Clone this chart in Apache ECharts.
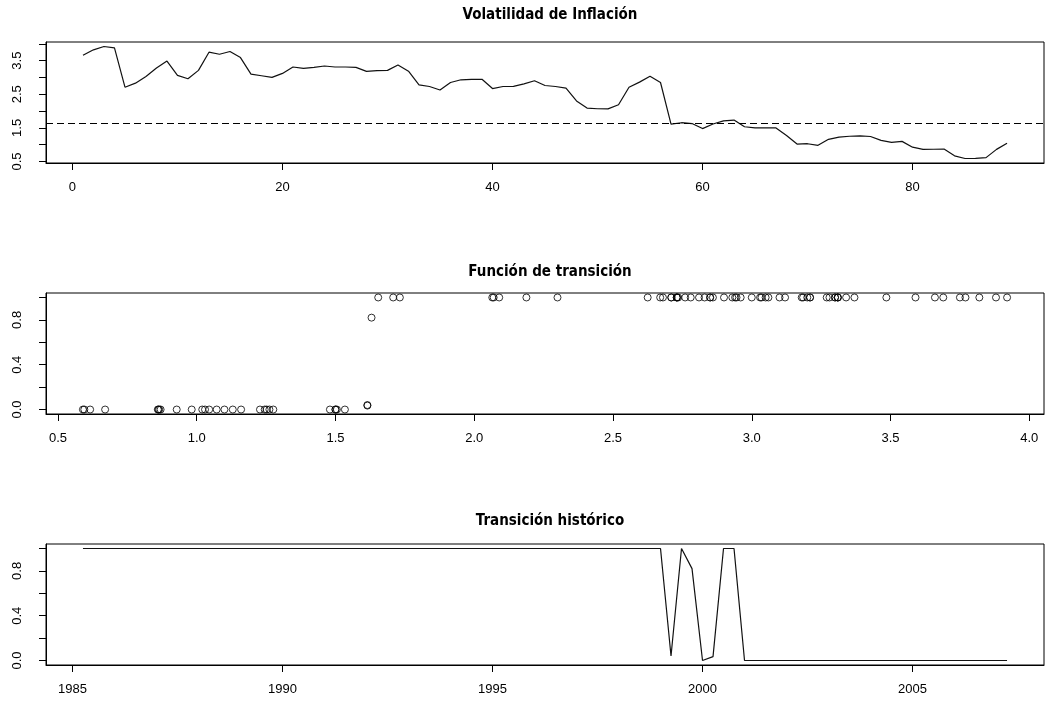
<!DOCTYPE html>
<html>
<head>
<meta charset="utf-8">
<script src="https://cdn.jsdelivr.net/npm/echarts@6/dist/echarts.min.js"></script>
<style>
html,body{margin:0;padding:0;background:#fff;}
#chart{width:1046px;height:702px;}
</style>
</head>
<body>
<div id="chart"></div>
<script>
// ---- data ----
const titles = ['Volatilidad de Inflación', 'Función de transición', 'Transición histórico'];

// quarterly inflation volatility, observations 1..89
const volatility = [
  3.66, 3.82, 3.92, 3.88, 2.71, 2.83, 3.03, 3.28, 3.485, 3.06,
  2.96, 3.21, 3.75, 3.69, 3.77, 3.59, 3.10, 3.05, 3.00, 3.12,
  3.31, 3.27, 3.30, 3.34, 3.31, 3.31, 3.30, 3.18, 3.20, 3.21,
  3.37, 3.185, 2.78, 2.73, 2.625, 2.85, 2.93, 2.94, 2.945, 2.67,
  2.73, 2.735, 2.81, 2.90, 2.76, 2.73, 2.68, 2.30, 2.09, 2.07,
  2.065, 2.188, 2.71, 2.86, 3.035, 2.85, 1.615, 1.654, 1.63, 1.48,
  1.615, 1.708, 1.732, 1.534, 1.50, 1.505, 1.50, 1.276, 1.02, 1.03,
  0.982, 1.16, 1.228, 1.252, 1.262, 1.245, 1.13, 1.072, 1.10, 0.928,
  0.86, 0.865, 0.87, 0.67, 0.59, 0.595, 0.616, 0.862, 1.045
];

// transition function value for each observation
const transition = [
  1, 1, 1, 1, 1, 1, 1, 1, 1, 1,
  1, 1, 1, 1, 1, 1, 1, 1, 1, 1,
  1, 1, 1, 1, 1, 1, 1, 1, 1, 1,
  1, 1, 1, 1, 1, 1, 1, 1, 1, 1,
  1, 1, 1, 1, 1, 1, 1, 1, 1, 1,
  1, 1, 1, 1, 1, 1, 0.04, 1, 0.82, 0,
  0.035, 1, 1, 0, 0, 0, 0, 0, 0, 0,
  0, 0, 0, 0, 0, 0, 0, 0, 0, 0,
  0, 0, 0, 0, 0, 0, 0, 0, 0
];

const threshold = 1.63;          // dashed reference line
const startYear = 1985.25;       // first quarter of the series

const topXTicks = [0, 20, 40, 60, 80];
const topYTicks = [0.5, 1.0, 1.5, 2.0, 2.5, 3.0, 3.5, 4.0];
const topYLabels = [0.5, 1.5, 2.5, 3.5];
const midXTicks = [0.5, 1.0, 1.5, 2.0, 2.5, 3.0, 3.5, 4.0];
const probTicks = [0, 0.2, 0.4, 0.6, 0.8, 1.0];
const probLabels = [0, 0.4, 0.8];
const yearTicks = [1985, 1990, 1995, 2000, 2005];

// ---- build series data ----
const obsIndex = volatility.map((_, i) => i + 1);
const quarterTime = volatility.map((_, i) => startYear + i * 0.25);
const lineTop = volatility.map((v, i) => [obsIndex[i], v]);
const scatterMid = volatility.map((v, i) => [v, transition[i]]);
const lineBottom = transition.map((v, i) => [quarterTime[i], v]);

const FONT = 'Liberation Sans, Arial, sans-serif';
const TFONT = 'Liberation Sans Narrow, Arial Narrow, DejaVu Sans Condensed, Liberation Sans, Arial, sans-serif';

function xAxisCfg(grid, min, max, ticks, fmt) {
  return {
    type: 'value', gridIndex: grid, min: min, max: max,
    axisLine: {show: true, onZero: false, lineStyle: {color: '#000', width: 1}},
    axisTick: {show: true, length: 7, inside: false, customValues: ticks, lineStyle: {color: '#000'}},
    axisLabel: {show: true, customValues: ticks, margin: 18, color: '#000', fontSize: 13, fontFamily: FONT, formatter: fmt},
    splitLine: {show: false}
  };
}
function yAxisCfg(grid, min, max, ticks, labels, fmt) {
  return {
    type: 'value', gridIndex: grid, min: min, max: max,
    axisLine: {show: true, onZero: false, lineStyle: {color: '#000', width: 1}},
    axisTick: {show: true, length: 7, inside: false, customValues: ticks, lineStyle: {color: '#000'}},
    axisLabel: {show: true, customValues: labels, rotate: 90, margin: 22, color: '#000', fontSize: 13, fontFamily: FONT, formatter: fmt},
    splitLine: {show: false}
  };
}
const f1 = v => v.toFixed(1);
const f0 = v => String(Math.round(v));

const gridTops = [42, 293, 544];
const titleTops = [3, 260, 509];
const option = {
  animation: false,
  backgroundColor: '#fff',
  title: titles.map((t, i) => ({
    text: t, left: 545, top: titleTops[i], textAlign: 'center',
    textStyle: {fontSize: 15, fontWeight: 'bold', color: '#000', fontFamily: TFONT}
  })),
  grid: gridTops.map(t => ({
    left: 46, top: t, width: 998, height: 121, containLabel: false,
    show: true, borderColor: '#000', borderWidth: 1, backgroundColor: 'transparent'
  })),
  xAxis: [
    xAxisCfg(0, -2.52, 92.52, topXTicks, f0),
    xAxisCfg(1, 0.457, 4.053, midXTicks, f1),
    xAxisCfg(2, 1984.37, 2008.13, yearTicks, f0)
  ],
  yAxis: [
    yAxisCfg(0, 0.457, 4.053, topYTicks, topYLabels, f1),
    yAxisCfg(1, -0.04, 1.04, probTicks, probLabels, f1),
    yAxisCfg(2, -0.04, 1.04, probTicks, probLabels, f1)
  ],
  series: [
    {
      type: 'line', xAxisIndex: 0, yAxisIndex: 0, data: lineTop,
      showSymbol: false, symbol: 'none', silent: true,
      lineStyle: {color: '#111', width: 1.2},
      markLine: {
        silent: true, symbol: 'none', label: {show: false},
        lineStyle: {color: '#000', width: 1, type: [7, 4]},
        data: [{yAxis: threshold}]
      }
    },
    {
      type: 'scatter', xAxisIndex: 1, yAxisIndex: 1, data: scatterMid,
      symbol: 'circle', symbolSize: 7, silent: true,
      itemStyle: {color: 'rgba(0,0,0,0)', borderColor: '#000', borderWidth: 1}
    },
    {
      type: 'line', xAxisIndex: 2, yAxisIndex: 2, data: lineBottom,
      showSymbol: false, symbol: 'none', silent: true,
      lineStyle: {color: '#111', width: 1.2}
    }
  ]
};

const chart = echarts.init(document.getElementById('chart'), null, {renderer: 'canvas'});
chart.setOption(option);
</script>
</body>
</html>
